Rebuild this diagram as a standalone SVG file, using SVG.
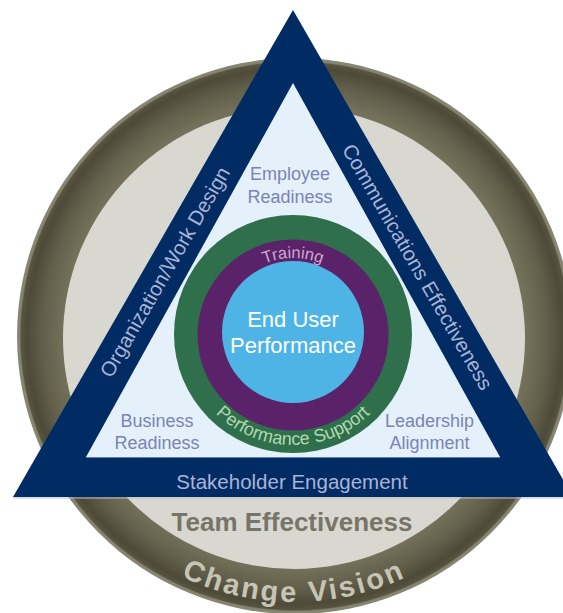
<svg xmlns="http://www.w3.org/2000/svg" width="563" height="613" viewBox="0 0 563 613">
  <style>
    .t { font-family: "Liberation Sans", Arial, Helvetica, sans-serif; text-anchor: middle; }
    .band { font-size: 20.5px; fill: #a9b3d8; }
    .inner { font-size: 18px; fill: #7a84b4; }
    .core { font-size: 22px; fill: #ffffff; }
  </style>
  <defs>
    <radialGradient id="ringGrad" gradientUnits="userSpaceOnUse" cx="295" cy="336" r="278">
      <stop offset="0.80" stop-color="#7b7864"/>
      <stop offset="0.84" stop-color="#737059"/>
      <stop offset="0.91" stop-color="#615e4a"/>
      <stop offset="0.965" stop-color="#4d4a38"/>
      <stop offset="0.985" stop-color="#57543f"/>
      <stop offset="0.99" stop-color="#858270"/>
      <stop offset="1" stop-color="#8a8775"/>
    </radialGradient>
    <path id="arcTraining" d="M 216,335 A 77 77 0 0 1 370,335"/>
    <path id="arcSupport" d="M 182,334 A 111 111 0 0 0 404,334"/>
    <path id="arcVision" d="M 29,337 A 265 265 0 0 0 559,337"/>
  </defs>

  <g id="change-vision">
    <circle cx="295" cy="336" r="278" fill="url(#ringGrad)"/>
    <text class="t" style="font-size:29px;font-weight:bold;fill:#c6c5b5;letter-spacing:2.5px"><textPath href="#arcVision" startOffset="50%">Change Vision</textPath></text>
  </g>

  <g id="team-effectiveness">
    <circle cx="294" cy="338" r="231" fill="#d9d8d0"/>
    <text class="t" x="292" y="531" style="font-size:26px;font-weight:bold;fill:#77756a">Team Effectiveness</text>
  </g>

  <g id="triangle">
    <polygon points="293,10 13,497 573,497" fill="#012c63"/>
    <line x1="13" y1="498" x2="563" y2="498" stroke="#b9bdca" stroke-width="1"/>
    <polygon points="293,83 86,457 500,457" fill="#e4f1fa"/>
    <line x1="86" y1="457.5" x2="500" y2="457.5" stroke="#5d7aa8" stroke-width="1"/>
  </g>

  <g id="organization-work-design">
    <text class="t band" transform="translate(165,272) rotate(-60)" x="0" y="7">Organization/Work Design</text>
  </g>
  <g id="communications-effectiveness">
    <text class="t band" transform="translate(417.5,267) rotate(60)" x="0" y="7">Communications Effectiveness</text>
  </g>
  <g id="stakeholder-engagement">
    <text class="t band" x="292" y="489">Stakeholder Engagement</text>
  </g>

  <g id="employee-readiness">
    <text class="t inner" x="290" y="180">Employee</text>
    <text class="t inner" x="290" y="202.5">Readiness</text>
  </g>
  <g id="business-readiness">
    <text class="t inner" x="157" y="427">Business</text>
    <text class="t inner" x="157" y="448.5">Readiness</text>
  </g>
  <g id="leadership-alignment">
    <text class="t inner" x="429.5" y="427">Leadership</text>
    <text class="t inner" x="429.5" y="448.5">Alignment</text>
  </g>

  <g id="performance-support">
    <circle cx="293" cy="334" r="119" fill="#2f6f4b"/>
    <text class="t" style="font-size:18px;fill:#b1d8b0"><textPath href="#arcSupport" startOffset="50%">Performance Support</textPath></text>
  </g>
  <g id="training">
    <circle cx="293" cy="335" r="95.5" fill="#5a2269"/>
    <text class="t" style="font-size:16.5px;fill:#c9a8d2"><textPath href="#arcTraining" startOffset="50%">Training</textPath></text>
  </g>
  <g id="end-user-performance">
    <circle cx="293" cy="332" r="71" fill="#4eb4e6"/>
    <text class="t core" x="293" y="326.7">End User</text>
    <text class="t core" x="293" y="353.3">Performance</text>
  </g>
</svg>
